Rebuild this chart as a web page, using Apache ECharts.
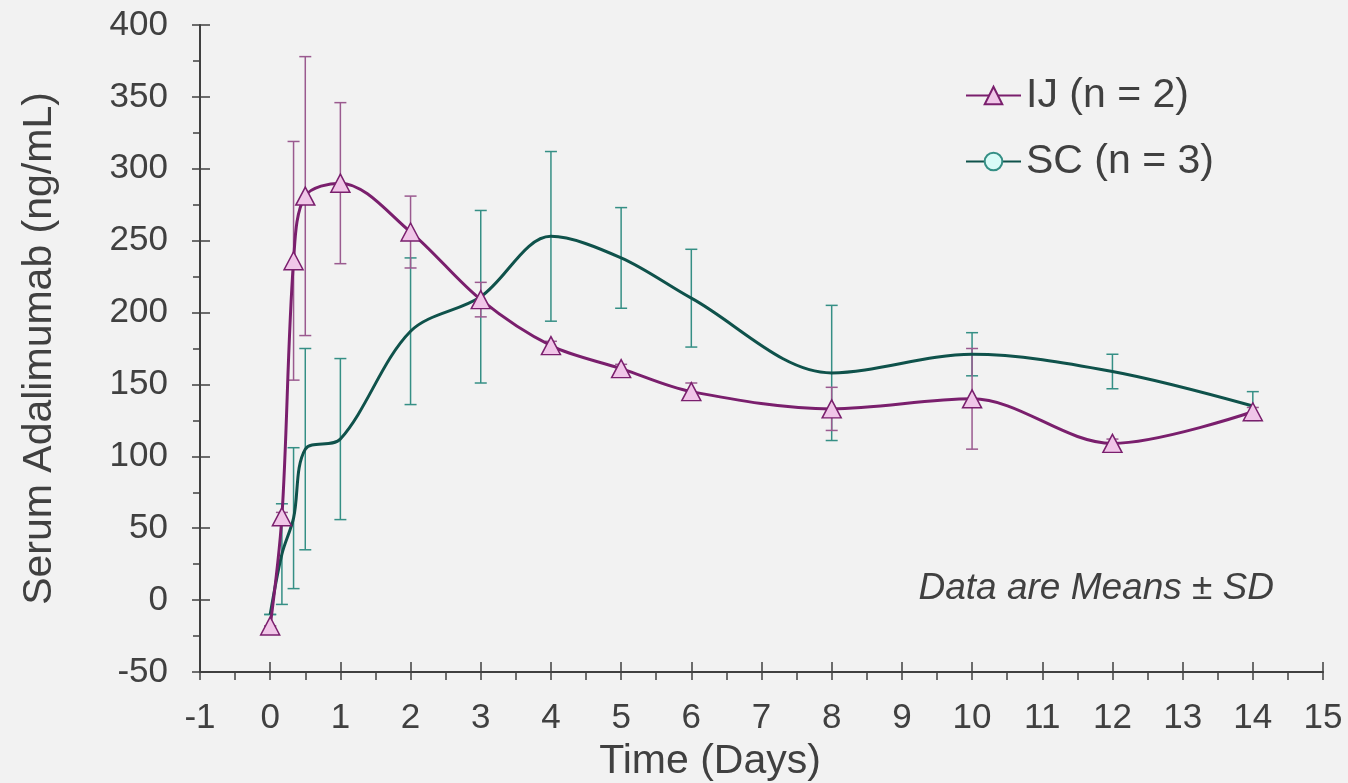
<!DOCTYPE html>
<html>
<head>
<meta charset="utf-8">
<title>Serum Adalimumab</title>
<script src="https://cdn.jsdelivr.net/npm/echarts@6/dist/echarts.min.js"></script>
<style>
    html, body { margin: 0; padding: 0; background: #f2f2f2; }
    #main { width: 1348px; height: 783px; }
</style>
</head>
<body>
<div id="main"></div>
<script>
// 时间点 (天)
var ijTime = [0, 0.167, 0.333, 0.5, 1, 2, 3, 4, 5, 6, 8, 10, 12, 14];
var ijMean = [-18, 58, 236, 281, 290, 256, 209, 177, 161, 145, 133, 140, 109, 131];
var ijSD = [0, 3, 83, 97, 56, 25, 12, 3, 3, 6, 15, 35, 3, 3];

var scTime = [0, 0.167, 0.333, 0.5, 1, 2, 3, 4, 5, 6, 8, 10, 12, 14];
var scMean = [-10, 32, 57, 105, 112, 187, 211, 253, 238, 210, 158, 171, 159, 135];
var scSD = [0, 35, 49, 70, 56, 51, 60, 59, 35, 34, 47, 15, 12, 10];

var names = ['IJ (n = 2)', 'SC (n = 3)'];

var font = "'Liberation Sans', Arial, sans-serif"
    , axisColor = '#404040'
    , ijLine = '#7a1f6d', ijBar = '#9a5a8f', ijFill = '#f0c6e8'
    , scLine = '#0f524b', scBar = '#358f85', scFill = '#d9fbf7';

function pairs(t, v) {
    var out = [];
    for (var i = 0; i < t.length; i++) {
        out.push([t[i], v[i]]);
    }
    return out;
}

function errData(t, m, s) {
    var out = [];
    for (var i = 0; i < t.length; i++) {
        out.push([t[i], m[i] - s[i], m[i] + s[i]]);
    }
    return out;
}

//误差线
function errSeries(data, color) {
    return {
        type: 'custom',
        z: 1,
        silent: true,
        data: data,
        encode: { x: 0, y: [1, 2] },
        renderItem: function (params, api) {
            var lo = api.coord([api.value(0), api.value(1)])
                , hi = api.coord([api.value(0), api.value(2)])
                , w = 6
                , style = { stroke: color, lineWidth: 1.5 };
            return {
                type: 'group',
                children: [
                    { type: 'line', shape: { x1: lo[0], y1: lo[1], x2: hi[0], y2: hi[1] }, style: style },
                    { type: 'line', shape: { x1: lo[0] - w, y1: lo[1], x2: lo[0] + w, y2: lo[1] }, style: style },
                    { type: 'line', shape: { x1: hi[0] - w, y1: hi[1], x2: hi[0] + w, y2: hi[1] }, style: style }
                ]
            };
        }
    };
}

var tickStyle = { color: axisColor, width: 1.5 };

var option = {
    backgroundColor: '#f2f2f2',
    animation: false,
    textStyle: { fontFamily: font },
    title: {
        text: 'Data are Means ± SD',
        right: 69,
        top: 565,
        textStyle: { fontFamily: font, fontSize: 37, fontStyle: 'italic', fontWeight: 'normal', color: axisColor }
    },
    legend: {
        orient: 'vertical',
        left: 965,
        top: 75,
        padding: 0,
        itemWidth: 55,
        itemHeight: 22,
        itemGap: 25,
        data: names,
        textStyle: { fontFamily: font, fontSize: 41, color: axisColor }
    },
    grid: { left: 200, right: 25, top: 25, bottom: 111, containLabel: false, outerBoundsMode: 'none' },
    xAxis: [
        {
            type: 'value', min: -1, max: 15, interval: 1,
            name: 'Time (Days)', nameLocation: 'middle', nameGap: 63,
            nameTextStyle: { fontFamily: font, fontSize: 41, color: axisColor, padding: [0, 103, 0, 0] },
            axisLine: { onZero: false, lineStyle: { color: axisColor, width: 2 } },
            axisTick: { length: 8, lineStyle: tickStyle },
            minorTick: { show: true, splitNumber: 2, length: 8, lineStyle: tickStyle },
            axisLabel: { fontFamily: font, fontSize: 35, color: axisColor, margin: 29 },
            splitLine: { show: false }
        },
        {
            type: 'value', min: -1, max: 15, interval: 1, position: 'bottom',
            axisLine: { show: false, onZero: false },
            axisTick: { inside: true, length: 10, lineStyle: tickStyle },
            axisLabel: { show: false },
            splitLine: { show: false }
        }
    ],
    yAxis: [
        {
            type: 'value', min: -50, max: 400, interval: 50,
            name: 'Serum Adalimumab (ng/mL)', nameLocation: 'middle', nameGap: 140,
            nameTextStyle: { fontFamily: font, fontSize: 41, color: axisColor },
            axisLine: { show: true, onZero: false, lineStyle: { color: axisColor, width: 2 } },
            axisTick: { show: true, length: 8, lineStyle: tickStyle },
            minorTick: { show: true, splitNumber: 2, length: 7, lineStyle: tickStyle },
            axisLabel: { fontFamily: font, fontSize: 35, color: axisColor, margin: 32 },
            splitLine: { show: false }
        },
        {
            type: 'value', min: -50, max: 400, interval: 50, position: 'left',
            axisLine: { show: false, onZero: false },
            axisTick: { show: true, inside: true, length: 10, lineStyle: tickStyle },
            axisLabel: { show: false },
            splitLine: { show: false }
        }
    ],
    series: [
        errSeries(errData(scTime, scMean, scSD), scBar),
        errSeries(errData(ijTime, ijMean, ijSD), ijBar),
        {
            name: names[1],
            type: 'line',
            z: 3,
            smooth: 0.33,
            showSymbol: false,
            symbol: 'circle',
            data: pairs(scTime, scMean),
            lineStyle: { color: scLine, width: 3 },
            itemStyle: { color: scFill, borderColor: scBar, borderWidth: 1.5 }
        },
        {
            name: names[0],
            type: 'line',
            z: 4,
            smooth: 0.33,
            symbol: 'triangle',
            symbolSize: [19, 18],
            data: pairs(ijTime, ijMean),
            lineStyle: { color: ijLine, width: 3 },
            itemStyle: { color: ijFill, borderColor: ijLine, borderWidth: 1.5 }
        }
    ]
};

var chart = echarts.init(document.getElementById('main'));
chart.setOption(option);
window.onresize = chart.resize;
</script>
</body>
</html>
